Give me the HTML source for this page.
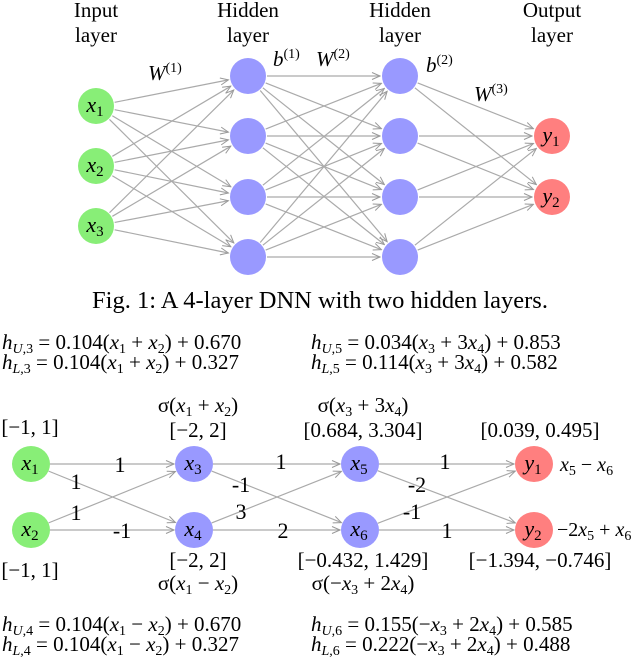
<!DOCTYPE html>
<html><head><meta charset="utf-8">
<style>
html,body{margin:0;padding:0;background:#fff;}
svg, svg text{font-family:"Liberation Serif","DejaVu Serif","Times New Roman",serif;}
</style></head><body>
<svg id="s" width="640" height="659" viewBox="0 0 640 659" xmlns="http://www.w3.org/2000/svg" font-family="Liberation Serif, DejaVu Serif, serif">
<defs>
<marker id="a" markerWidth="10" markerHeight="10" refX="9" refY="5" orient="auto" markerUnits="userSpaceOnUse">
<path d="M1,1.5 L9,5 L1,8.5" fill="none" stroke="#999" stroke-width="1"/>
</marker>
</defs>
<g id="edges" stroke="#aaa" stroke-width="1.2" fill="none"></g>
<g id="nodes"></g>
<g font-size="21" text-anchor="middle" fill="#000">
<text x="96" y="17">Input</text><text x="96" y="42">layer</text>
<text x="248" y="17">Hidden</text><text x="248" y="42">layer</text>
<text x="400" y="17">Hidden</text><text x="400" y="42">layer</text>
<text x="552" y="17">Output</text><text x="552" y="42">layer</text>
</g>
<g font-size="21" font-style="italic">
<text x="148" y="80">W<tspan font-size="14" font-style="normal" dy="-8">(1)</tspan></text>
<text x="273" y="66">b<tspan font-size="14" font-style="normal" dy="-8">(1)</tspan></text>
<text x="316" y="66">W<tspan font-size="14" font-style="normal" dy="-8">(2)</tspan></text>
<text x="426" y="72">b<tspan font-size="14" font-style="normal" dy="-8">(2)</tspan></text>
<text x="474" y="101">W<tspan font-size="14" font-style="normal" dy="-8">(3)</tspan></text>
</g>
<text x="320" y="308" font-size="24.5" text-anchor="middle">Fig. 1: A 4-layer DNN with two hidden layers.</text>
<g font-size="21">
<text x="2" y="349"><tspan font-style="italic">h</tspan><tspan font-size="14" font-style="italic" dy="4">U</tspan><tspan font-size="14" dy="0">,3</tspan><tspan dy="-4"> = 0.104(</tspan><tspan font-style="italic">x</tspan><tspan font-size="14" dy="4">1</tspan><tspan dy="-4"> + </tspan><tspan font-style="italic">x</tspan><tspan font-size="14" dy="4">2</tspan><tspan dy="-4">) + 0.670</tspan></text>
<text x="2" y="369"><tspan font-style="italic">h</tspan><tspan font-size="14" font-style="italic" dy="4">L</tspan><tspan font-size="14" dy="0">,3</tspan><tspan dy="-4"> = 0.104(</tspan><tspan font-style="italic">x</tspan><tspan font-size="14" dy="4">1</tspan><tspan dy="-4"> + </tspan><tspan font-style="italic">x</tspan><tspan font-size="14" dy="4">2</tspan><tspan dy="-4">) + 0.327</tspan></text>
<text x="311" y="349"><tspan font-style="italic">h</tspan><tspan font-size="14" font-style="italic" dy="4">U</tspan><tspan font-size="14" dy="0">,5</tspan><tspan dy="-4"> = 0.034(</tspan><tspan font-style="italic">x</tspan><tspan font-size="14" dy="4">3</tspan><tspan dy="-4"> + 3</tspan><tspan font-style="italic">x</tspan><tspan font-size="14" dy="4">4</tspan><tspan dy="-4">) + 0.853</tspan></text>
<text x="311" y="369"><tspan font-style="italic">h</tspan><tspan font-size="14" font-style="italic" dy="4">L</tspan><tspan font-size="14" dy="0">,5</tspan><tspan dy="-4"> = 0.114(</tspan><tspan font-style="italic">x</tspan><tspan font-size="14" dy="4">3</tspan><tspan dy="-4"> + 3</tspan><tspan font-style="italic">x</tspan><tspan font-size="14" dy="4">4</tspan><tspan dy="-4">) + 0.582</tspan></text>
<text x="2" y="631"><tspan font-style="italic">h</tspan><tspan font-size="14" font-style="italic" dy="4">U</tspan><tspan font-size="14" dy="0">,4</tspan><tspan dy="-4"> = 0.104(</tspan><tspan font-style="italic">x</tspan><tspan font-size="14" dy="4">1</tspan><tspan dy="-4"> − </tspan><tspan font-style="italic">x</tspan><tspan font-size="14" dy="4">2</tspan><tspan dy="-4">) + 0.670</tspan></text>
<text x="2" y="651"><tspan font-style="italic">h</tspan><tspan font-size="14" font-style="italic" dy="4">L</tspan><tspan font-size="14" dy="0">,4</tspan><tspan dy="-4"> = 0.104(</tspan><tspan font-style="italic">x</tspan><tspan font-size="14" dy="4">1</tspan><tspan dy="-4"> − </tspan><tspan font-style="italic">x</tspan><tspan font-size="14" dy="4">2</tspan><tspan dy="-4">) + 0.327</tspan></text>
<text x="311" y="631"><tspan font-style="italic">h</tspan><tspan font-size="14" font-style="italic" dy="4">U</tspan><tspan font-size="14" dy="0">,6</tspan><tspan dy="-4"> = 0.155(−</tspan><tspan font-style="italic">x</tspan><tspan font-size="14" dy="4">3</tspan><tspan dy="-4"> + 2</tspan><tspan font-style="italic">x</tspan><tspan font-size="14" dy="4">4</tspan><tspan dy="-4">) + 0.585</tspan></text>
<text x="311" y="651"><tspan font-style="italic">h</tspan><tspan font-size="14" font-style="italic" dy="4">L</tspan><tspan font-size="14" dy="0">,6</tspan><tspan dy="-4"> = 0.222(−</tspan><tspan font-style="italic">x</tspan><tspan font-size="14" dy="4">3</tspan><tspan dy="-4"> + 2</tspan><tspan font-style="italic">x</tspan><tspan font-size="14" dy="4">4</tspan><tspan dy="-4">) + 0.488</tspan></text>
</g>
<g font-size="21" text-anchor="middle">
<text x="30" y="434">[−1, 1]</text>
<text x="30" y="577">[−1, 1]</text>
<text x="198" y="412">σ(<tspan font-style="italic">x</tspan><tspan font-size="14" dy="4">1</tspan><tspan dy="-4"> + </tspan><tspan font-style="italic">x</tspan><tspan font-size="14" dy="4">2</tspan><tspan dy="-4">)</tspan></text>
<text x="198" y="437">[−2, 2]</text>
<text x="363" y="412">σ(<tspan font-style="italic">x</tspan><tspan font-size="14" dy="4">3</tspan><tspan dy="-4"> + 3</tspan><tspan font-style="italic">x</tspan><tspan font-size="14" dy="4">4</tspan><tspan dy="-4">)</tspan></text>
<text x="363" y="437">[0.684, 3.304]</text>
<text x="540" y="437">[0.039, 0.495]</text>
<text x="198" y="567">[−2, 2]</text>
<text x="198" y="590">σ(<tspan font-style="italic">x</tspan><tspan font-size="14" dy="4">1</tspan><tspan dy="-4"> − </tspan><tspan font-style="italic">x</tspan><tspan font-size="14" dy="4">2</tspan><tspan dy="-4">)</tspan></text>
<text x="363" y="567">[−0.432, 1.429]</text>
<text x="363" y="590">σ(−<tspan font-style="italic">x</tspan><tspan font-size="14" dy="4">3</tspan><tspan dy="-4"> + 2</tspan><tspan font-style="italic">x</tspan><tspan font-size="14" dy="4">4</tspan><tspan dy="-4">)</tspan></text>
<text x="540" y="567">[−1.394, −0.746]</text>
</g>
<g font-size="20">
<text x="560" y="471"><tspan font-style="italic">x</tspan><tspan font-size="14" dy="4">5</tspan><tspan dy="-4"> − </tspan><tspan font-style="italic">x</tspan><tspan font-size="14" dy="4">6</tspan></text>
<text x="557" y="536">−2<tspan font-style="italic">x</tspan><tspan font-size="14" dy="4">5</tspan><tspan dy="-4"> + </tspan><tspan font-style="italic">x</tspan><tspan font-size="14" dy="4">6</tspan></text>
</g>
<g font-size="22" text-anchor="middle">
<text x="120" y="472">1</text><text x="76" y="489">1</text><text x="76" y="520">1</text><text x="122" y="538">-1</text>
<text x="281" y="469">1</text><text x="241" y="492">-1</text><text x="241" y="519">3</text><text x="283" y="538">2</text>
<text x="445" y="469">1</text><text x="417" y="492">-2</text><text x="412" y="519">-1</text><text x="447" y="538">1</text>
</g>
</svg>
<script>
(function(){
var NS="http://www.w3.org/2000/svg";
var E=document.getElementById("edges"),N=document.getElementById("nodes");
function line(a,b,r){var dx=b[0]-a[0],dy=b[1]-a[1],d=Math.hypot(dx,dy);
var l=document.createElementNS(NS,"line");
l.setAttribute("x1",a[0]+dx/d*r);l.setAttribute("y1",a[1]+dy/d*r);
l.setAttribute("x2",b[0]-dx/d*(r+1));l.setAttribute("y2",b[1]-dy/d*(r+1));
l.setAttribute("marker-end","url(#a)");E.appendChild(l);}
function node(p,c,lab,sub,rx,ry){var e=document.createElementNS(NS,"ellipse");
e.setAttribute("cx",p[0]);e.setAttribute("cy",p[1]);e.setAttribute("rx",rx);e.setAttribute("ry",ry);e.setAttribute("fill",c);N.appendChild(e);
if(lab){var t=document.createElementNS(NS,"text");t.setAttribute("x",p[0]-1);t.setAttribute("y",p[1]+6);t.setAttribute("text-anchor","middle");t.setAttribute("font-size","22");
t.innerHTML='<tspan font-style="italic">'+lab+'</tspan><tspan font-size="15" dy="4">'+sub+'</tspan>';N.appendChild(t);}}
var G="#88ee77",B="#9999ff",R="#ff7f7f";
var I=[[96,106],[96,166],[96,226]],H1=[[248,76],[248,136],[248,197],[248,257]],H2=[[400,76],[400,136],[400,197],[400,257]],O=[[552,136],[552,197]];
function all(A,Bs){A.forEach(function(a){Bs.forEach(function(b){line(a,b,19);});});}
all(I,H1);all(H1,H2);all(H2,O);
I.forEach(function(p,i){node(p,G,"x",i+1,18,18);});
H1.forEach(function(p){node(p,B,null,0,18,18);});
H2.forEach(function(p){node(p,B,null,0,18,18);});
O.forEach(function(p,i){node(p,R,"y",i+1,18,18);});
var b1=[31,464],b2=[31,530],b3=[194,464],b4=[194,530],b5=[360,464],b6=[360,530],b7=[534,464],b8=[534,530];
[[b1,b3],[b1,b4],[b2,b3],[b2,b4],[b3,b5],[b3,b6],[b4,b5],[b4,b6],[b5,b7],[b5,b8],[b6,b7],[b6,b8]].forEach(function(p){line(p[0],p[1],19);});
node(b1,G,"x",1,19,18);node(b2,G,"x",2,19,18);node(b3,B,"x",3,19,18);node(b4,B,"x",4,19,18);
node(b5,B,"x",5,19,18);node(b6,B,"x",6,19,18);node(b7,R,"y",1,19,18);node(b8,R,"y",2,19,18);
})();
</script>
</body></html>
